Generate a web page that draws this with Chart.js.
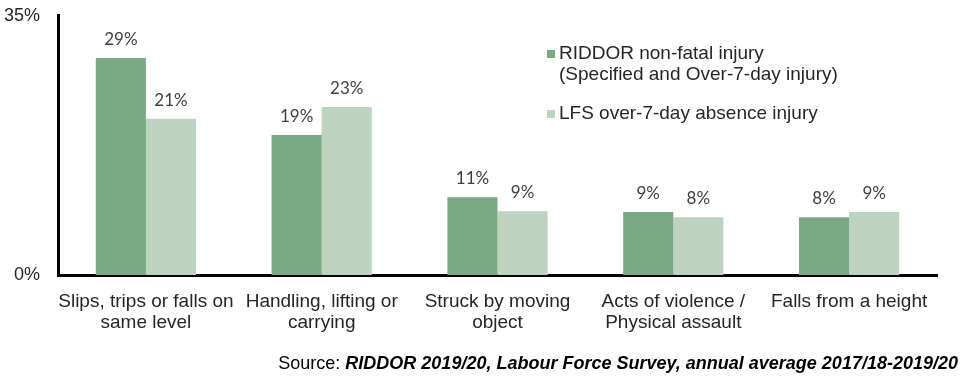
<html>
<head>
<style>
  body { margin: 0; background: #fff; }
  #wrap { position: relative; width: 969px; height: 388px; overflow: hidden; }
  #myChart { position: absolute; left: 0; top: -13px; }
  #source { position: absolute; right: 11px; top: 353px; font: 18px "Liberation Sans", Arial, sans-serif; color: #000; }
  #source b { font-style: italic; }
</style>
</head>
<body>
<div id="wrap">
  <canvas id="myChart" width="969" height="401"></canvas>
  <div id="source">Source: <b>RIDDOR 2019/20, Labour Force Survey, annual average 2017/18-2019/20</b></div>
</div>
<script src="https://cdn.jsdelivr.net/npm/chart.js@4.4.0/dist/chart.umd.min.js"></script>
<script>
    // categories and values (percent of injuries)
    const categories = [
        ["Slips, trips or falls on", "same level"],
        ["Handling, lifting or", "carrying"],
        ["Struck by moving", "object"],
        ["Acts of violence /", "Physical assault"],
        ["Falls from a height"]
    ];
    const riddor = [29.3, 18.9, 10.5, 8.5, 7.8];
    const lfs = [21.1, 22.7, 8.6, 7.8, 8.5];
    const riddorName = ["RIDDOR non-fatal injury", "(Specified and Over-7-day injury)"];
    const lfsName = ["LFS over-7-day absence injury"];
    const yTicks = [0, 35];

    const txt = "#262626";
    const family = '"Liberation Sans", Arial, sans-serif';

    // value labels above each bar
    const barLabels = {
        id: "barLabels",
        afterDatasetsDraw(chart) {
            const ctx = chart.ctx;
            ctx.save();
            ctx.font = '17px Lato, "Open Sans", sans-serif';
            ctx.fillStyle = "#404040";
            ctx.textAlign = "center";
            ctx.textBaseline = "alphabetic";
            chart.data.datasets.forEach((ds, i) => {
                chart.getDatasetMeta(i).data.forEach((bar, j) => {
                    ctx.fillText(Math.round(ds.data[j]) + "%", bar.x, bar.y - 13);
                });
            });
            ctx.restore();
        }
    };

    // legend with multi-line entries (canvas sits 13px above the page top)
    const sideLegend = {
        id: "sideLegend",
        afterDraw(chart) {
            const ctx = chart.ctx;
            ctx.save();
            ctx.font = "19px " + family;
            ctx.textBaseline = "middle";
            let y = 54 + 13;
            chart.data.datasets.forEach((ds) => {
                ctx.fillStyle = ds.backgroundColor;
                ctx.fillRect(547, y - 4, 8, 8);
                ctx.fillStyle = txt;
                ds.label.forEach((line, k) => {
                    ctx.fillText(line, 559, y + k * 21);
                });
                y += ds.label.length * 21 + 18;
            });
            ctx.restore();
        }
    };

    new Chart("myChart", {
        type: "bar",
        data: {
            labels: categories,
            datasets: [{
                label: riddorName,
                data: riddor,
                backgroundColor: "#7AA882"
            }, {
                label: lfsName,
                data: lfs,
                backgroundColor: "#BCD3C0"
            }]
        },
        plugins: [barLabels, sideLegend],
        options: {
            responsive: false,
            animation: false,
            layout: { padding: { top: 0, right: 32, bottom: 53, left: 0 } },
            plugins: {
                legend: { display: false },
                tooltip: { enabled: false }
            },
            datasets: { bar: { categoryPercentage: 0.57, barPercentage: 1.0 } },
            scales: {
                x: {
                    grid: { display: false, drawTicks: false },
                    border: { color: "#000", width: 3 },
                    ticks: { color: txt, font: { family: family, size: 19, lineHeight: 1.1 }, padding: 16, maxRotation: 0, autoSkip: false },
                    afterFit: (s) => { s.height = 60; }
                },
                y: {
                    min: 0,
                    max: 35,
                    grid: { display: false, drawTicks: false },
                    border: { color: "#000", width: 3 },
                    afterBuildTicks: (s) => { s.ticks = yTicks.map(v => ({ value: v })); },
                    ticks: { color: txt, font: { family: family, size: 18 }, padding: 18, callback: (v) => v + "%" },
                    afterFit: (s) => { s.width = 58; }
                }
            }
        }
    });
</script>
</body>
</html>
